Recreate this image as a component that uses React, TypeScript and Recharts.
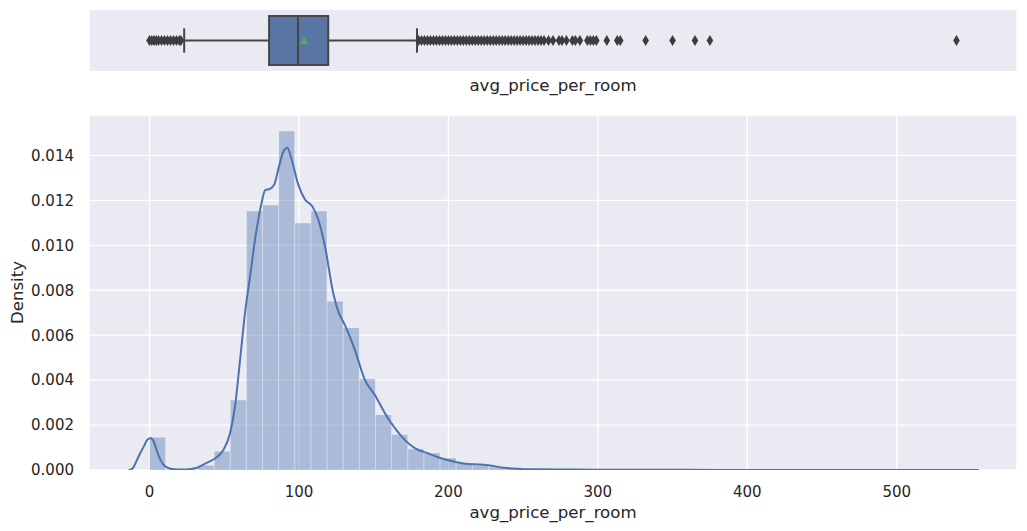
import React from 'react';
import {
  ComposedChart,
  Area,
  Line,
  Scatter,
  XAxis,
  YAxis,
  CartesianGrid,
  ReferenceArea,
  ReferenceLine,
} from 'recharts';

// histogram: 50 bins of avg_price_per_room (edges) and their density
const binEdges = [
  0, 10.8, 21.6, 32.4, 43.2, 54, 64.8, 75.6, 86.4, 97.2, 108, 118.8, 129.6, 140.4, 151.2, 162,
  172.8, 183.6, 194.4, 205.2, 216, 226.8, 237.6, 248.4, 259.2, 270, 280.8, 291.6, 302.4, 313.2,
  324, 334.8, 345.6, 356.4, 367.2, 378, 388.8, 399.6, 410.4, 421.2, 432, 442.8, 453.6, 464.4,
  475.2, 486, 496.8, 507.6, 518.4, 529.2, 540,
];
const binDensity = [
  0.00145, 0.00002, 0.00001, 0.0002, 0.00082, 0.0031, 0.01152, 0.01178, 0.01508, 0.01098,
  0.01152, 0.0075, 0.00632, 0.00405, 0.00245, 0.00157, 0.00092, 0.00074, 0.00052, 0.00031,
  0.0002, 0.00012, 0.00006, 0.00004, 0.00003, 0.00002, 0.00002, 0.00001, 0.00001, 0.00001,
  0.000005, 0.000005, 0.000003, 0.000003, 0.000003, 0, 0, 0, 0, 0,
  0, 0, 0, 0, 0, 0, 0, 0, 0, 0.000003,
];

// kde curve
const kdeX = [
  -14, -12.7, -10.5, -8.4, -6, -3.9, -1.6, 0.7, 2.9, 5.1, 7.3, 10.7, 16.3, 24, 31.8, 38.5, 44,
  49.4, 53.9, 57.2, 60.6, 63.9, 67.3, 70.6, 75, 77.3, 80.6, 83.5, 86.2, 89.5, 92.2, 95.1, 99.5,
  104, 108.9, 112.9, 117.4, 122.9, 126.3, 130.7, 137.4, 144.1, 150.8, 157.5, 164.2, 170.8, 177.5,
  186.4, 193, 204.2, 213.1, 222, 228, 237, 248, 260, 280, 300, 330, 360, 400, 450, 500, 555,
];
const kdeY = [
  0, 0.00001, 0.00015, 0.00045, 0.00078, 0.00104, 0.00134, 0.00141, 0.00126, 0.00082, 0.00045,
  0.00015, 0.00003, 0.00002, 0.0001, 0.00033, 0.00052, 0.00089, 0.00164, 0.00282, 0.0049,
  0.00699, 0.00862, 0.01025, 0.01189, 0.01245, 0.01251, 0.01271, 0.01338, 0.01416, 0.01434,
  0.01382, 0.01271, 0.01204, 0.01174, 0.01115, 0.00996, 0.00788, 0.00706, 0.00646, 0.00535,
  0.00401, 0.00334, 0.00253, 0.00186, 0.00134, 0.00097, 0.00074, 0.00057, 0.00037, 0.00027,
  0.00024, 0.0002, 0.0001, 0.00005, 0.00003, 0.00002, 0.000015, 0.00001, 0.000006, 0.000004,
  0.000003, 0.000002, 0,
];

// boxplot summary
const boxStats = { whiskerLow: 23.2, q1: 80, median: 99.4, q3: 119.6, whiskerHigh: 179, mean: 103.5 };
const outliers = [
  0, 1.5, 3, 4.5, 6, 8, 10, 12, 14, 16, 18, 20, 21,
  180, 182, 184, 186, 188, 190, 192, 194, 196, 198, 200, 202, 204, 206, 208, 210, 212, 214, 216,
  218, 220, 222, 224, 226, 228, 230, 232, 234, 236, 238, 240, 242, 244, 246, 248, 250, 252, 254,
  256, 258, 260, 262, 264, 267, 270, 274, 276, 279, 283, 285, 288, 293, 295, 297, 299, 306, 313,
  315, 332, 350, 365, 375, 540,
];

const xTicks = [0, 100, 200, 300, 400, 500];
const yTicks = [0, 0.002, 0.004, 0.006, 0.008, 0.01, 0.012, 0.014];
const xDomain = [-40.5, 580.5];

const BG = '#eaeaf2';
const TEXT = '#262626';
const BLUE = '#4c72b0';
const GRAY = '#464646';

type Row = { x: number; hist?: number; kde?: number };

const rows: Row[] = [
  ...binEdges.map((x, i) => ({ x, hist: binDensity[Math.min(i, binDensity.length - 1)] })),
  ...kdeX.map((x, i) => ({ x, kde: kdeY[i] })),
].sort((a, b) => a.x - b.x);

const edgeHeights = binEdges.map((x, i) => ({
  x,
  h: Math.max(binDensity[i - 1] ?? 0, binDensity[i] ?? 0),
}));

const Diamond = (props: any) => {
  const { cx, cy } = props;
  return (
    <path
      d={`M${cx},${cy - 5.5}L${cx + 3.3},${cy}L${cx},${cy + 5.5}L${cx - 3.3},${cy}Z`}
      fill="#3d3d3d"
    />
  );
};

const Triangle = (props: any) => {
  const { cx, cy } = props;
  return (
    <path
      d={`M${cx},${cy - 4.5}L${cx + 4.5},${cy + 3.8}L${cx - 4.5},${cy + 3.8}Z`}
      fill="#55a868"
    />
  );
};

const labelStyle = { fill: TEXT, fontSize: 16.6 };

export default function App() {
  return (
    <div
      style={{
        position: 'absolute',
        left: 0,
        top: 0,
        width: 1027,
        height: 531,
        background: '#fff',
        fontFamily: '"DejaVu Sans", sans-serif',
      }}
    >
      <div style={{ position: 'absolute', left: 0, top: 0 }}>
        <ComposedChart width={1027} height={100} margin={{ top: 10, right: 10, bottom: 0, left: 89 }}>
          <CartesianGrid fill={BG} stroke="#fff" strokeWidth={1.3} horizontal={false} />
          <XAxis
            type="number"
            dataKey="x"
            domain={xDomain}
            ticks={xTicks}
            allowDataOverflow
            tick={false}
            tickLine={false}
            axisLine={false}
            height={29}
            label={{ value: 'avg_price_per_room', position: 'insideBottom', offset: 9, style: labelStyle }}
          />
          <YAxis type="number" dataKey="y" domain={[-0.5, 0.5]} hide allowDataOverflow />
          <ReferenceLine
            segment={[{ x: boxStats.whiskerLow, y: 0 }, { x: boxStats.q1, y: 0 }]}
            stroke={GRAY}
            strokeWidth={2}
          />
          <ReferenceLine
            segment={[{ x: boxStats.q3, y: 0 }, { x: boxStats.whiskerHigh, y: 0 }]}
            stroke={GRAY}
            strokeWidth={2}
          />
          <ReferenceLine
            segment={[{ x: boxStats.whiskerLow, y: -0.2 }, { x: boxStats.whiskerLow, y: 0.2 }]}
            stroke={GRAY}
            strokeWidth={2}
          />
          <ReferenceLine
            segment={[{ x: boxStats.whiskerHigh, y: -0.2 }, { x: boxStats.whiskerHigh, y: 0.2 }]}
            stroke={GRAY}
            strokeWidth={2}
          />
          <ReferenceArea
            x1={boxStats.q1}
            x2={boxStats.q3}
            y1={-0.4}
            y2={0.4}
            fill="#5975a4"
            fillOpacity={1}
            stroke={GRAY}
            strokeWidth={2}
          />
          <ReferenceLine
            segment={[{ x: boxStats.median, y: -0.4 }, { x: boxStats.median, y: 0.4 }]}
            stroke={GRAY}
            strokeWidth={2}
          />
          <Scatter
            data={outliers.map((x) => ({ x, y: 0 }))}
            shape={Diamond}
            isAnimationActive={false}
          />
          <Scatter
            data={[{ x: boxStats.mean, y: 0 }]}
            shape={Triangle}
            isAnimationActive={false}
          />
        </ComposedChart>
      </div>

      <div style={{ position: 'absolute', left: 0, top: 100 }}>
        <ComposedChart
          width={1027}
          height={431}
          data={rows}
          margin={{ top: 15, right: 10, bottom: 0, left: 0 }}
        >
          <CartesianGrid fill={BG} stroke="#fff" strokeWidth={1.3} />
          <XAxis
            type="number"
            dataKey="x"
            domain={xDomain}
            ticks={xTicks}
            allowDataOverflow
            tickLine={false}
            axisLine={false}
            tickSize={6}
            tickMargin={10}
            height={61}
            tick={{ fill: TEXT, fontSize: 15 }}
            label={{ value: 'avg_price_per_room', position: 'insideBottom', offset: 13, style: labelStyle }}
          />
          <YAxis
            type="number"
            domain={[0, 0.0158]}
            ticks={yTicks}
            allowDataOverflow
            width={89}
            tickLine={false}
            axisLine={false}
            tickSize={6}
            tickMargin={9}
            tick={{ fill: TEXT, fontSize: 15 }}
            tickFormatter={(v: number) => v.toFixed(3)}
            label={{
              value: 'Density',
              angle: -90,
              position: 'insideLeft',
              offset: 17,
              style: { ...labelStyle, textAnchor: 'middle' },
            }}
          />
          <Area
            dataKey="hist"
            type="stepAfter"
            connectNulls
            fill={BLUE}
            fillOpacity={0.4}
            stroke="none"
            dot={false}
            activeDot={false}
            isAnimationActive={false}
          />
          {edgeHeights
            .filter((e) => e.h > 0.00005)
            .map((e) => (
              <ReferenceLine
                key={e.x}
                segment={[{ x: e.x, y: 0 }, { x: e.x, y: e.h }]}
                stroke="#ffffff"
                strokeOpacity={0.45}
                strokeWidth={1}
              />
            ))}
          <Line
            dataKey="kde"
            type="monotone"
            connectNulls
            stroke={BLUE}
            strokeWidth={2}
            dot={false}
            activeDot={false}
            isAnimationActive={false}
          />
        </ComposedChart>
      </div>
    </div>
  );
}
